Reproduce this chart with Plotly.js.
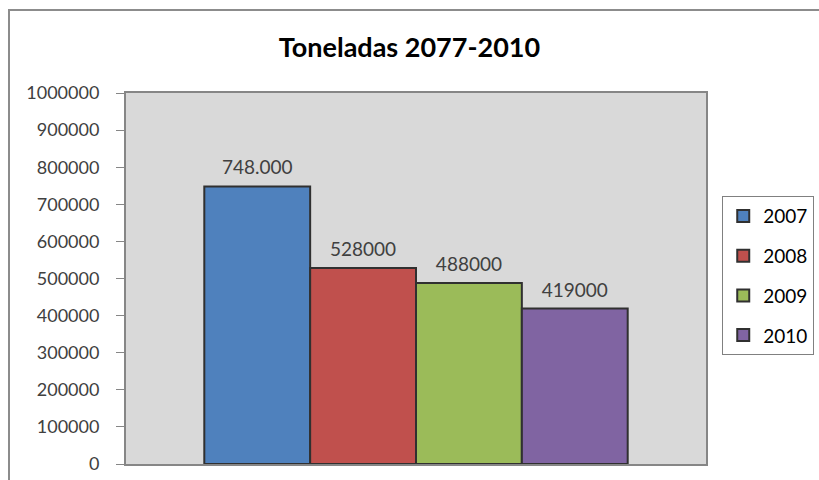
<!DOCTYPE html>
<html>
<head>
<meta charset="utf-8">
<script src="https://cdn.plot.ly/plotly-3.0.1.min.js"></script>
<style>
  html, body { margin: 0; padding: 0; background: #ffffff; }
  #wrap { position: relative; width: 819px; height: 480px; overflow: hidden; }
  #chart { width: 819px; height: 480px; }
  #frame { position: absolute; left: 8px; top: 9px; width: 900px; height: 600px;
           border: 2px solid #8c8c8c; pointer-events: none; box-sizing: border-box; }
</style>
</head>
<body>
<div id="wrap">
  <div id="chart"></div>
  <div id="frame"></div>
</div>
<script>
const chartTitle = "Toneladas 2077-2010";
const category = "Toneladas";
const seriesNames = ["2007", "2008", "2009", "2010"];
const seriesValues = [748000, 528000, 488000, 419000];
const valueLabels = ["748.000", "528000", "488000", "419000"];
const seriesColors = ["#4f81bd", "#c0504d", "#9bbb59", "#8064a2"];
const yTickValues = [0, 100000, 200000, 300000, 400000, 500000, 600000, 700000, 800000, 900000, 1000000];

const fontFamily = "Lato, 'Open Sans', sans-serif";

const barTraces = seriesNames.map((name, i) => ({
  type: "bar",
  name: name,
  x: [category],
  y: [seriesValues[i]],
  offsetgroup: "s" + i,
  marker: { color: seriesColors[i], line: { color: "#303030", width: 2 } },
  legendgroup: "g" + i,
  hoverinfo: "name+y"
}));

const labelTraces = seriesNames.map((name, i) => ({
  type: "scatter",
  mode: "markers+text",
  name: name + " label",
  x: [category],
  y: [seriesValues[i]],
  offsetgroup: "s" + i,
  text: [valueLabels[i]],
  textposition: "top center",
  textfont: { family: fontFamily, size: 19, color: "#404040" },
  marker: { size: 10, color: "rgba(0,0,0,0)", line: { width: 0 } },
  cliponaxis: false,
  showlegend: false,
  hoverinfo: "skip"
}));

const layout = {
  width: 819,
  height: 480,
  paper_bgcolor: "#ffffff",
  plot_bgcolor: "#d9d9d9",
  font: { family: fontFamily, color: "#404040" },
  title: {
    text: "<b>" + chartTitle + "</b>",
    font: { family: fontFamily, size: 27, color: "#000000" },
    x: 0.5, xanchor: "center",
    y: 0.9, yanchor: "middle", yref: "container"
  },
  margin: { l: 126, r: 113, t: 93, b: 16, autoexpand: false },
  barmode: "group",
  bargap: 0.27,
  bargroupgap: 0,
  scattermode: "group",
  scattergap: 0.27,
  showlegend: true,
  legend: {
    x: 1.028, xanchor: "left",
    y: 0.722, yanchor: "top",
    bgcolor: "#ffffff",
    bordercolor: "#808080",
    borderwidth: 1,
    font: { family: fontFamily, size: 19, color: "#000000" },
    traceorder: "grouped",
    tracegroupgap: 12,
    itemwidth: 30
  },
  xaxis: {
    type: "category",
    showticklabels: false,
    ticks: "",
    showgrid: false,
    zeroline: false,
    showline: true,
    mirror: true,
    linecolor: "#868686",
    linewidth: 2,
    fixedrange: true
  },
  yaxis: {
    range: [0, 1000000],
    tickvals: yTickValues,
    ticktext: yTickValues.map(v => String(v)),
    ticks: "outside",
    ticklen: 8,
    tickwidth: 1,
    tickcolor: "#868686",
    ticklabelstandoff: 13,
    tickfont: { family: fontFamily, size: 18, color: "#404040" },
    showgrid: false,
    zeroline: false,
    showline: true,
    mirror: true,
    linecolor: "#868686",
    linewidth: 2,
    fixedrange: true
  }
};

Plotly.newPlot("chart", barTraces.concat(labelTraces), layout, { displayModeBar: false, staticPlot: true });
</script>
</body>
</html>
